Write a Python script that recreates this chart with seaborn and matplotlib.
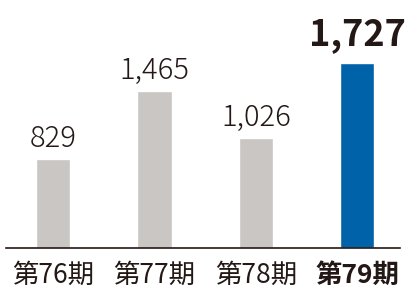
import matplotlib
matplotlib.use("Agg")
import matplotlib.pyplot as plt
import seaborn as sns
import pandas as pd

categories = ["第76期", "第77期", "第78期", "第79期"]
values = [829, 1465, 1026, 1727]
value_labels = ["829", "1,465", "1,026", "1,727"]
colors = ["#c9c6c3", "#c9c6c3", "#c9c6c3", "#0062a9"]

sns.set_theme(style="white")
plt.rcParams['font.family'] = ['Noto Sans CJK JP', 'DejaVu Sans']

df = pd.DataFrame({"cat": categories, "val": values})

fig = plt.figure(figsize=(4.10, 2.98), dpi=100)
ax = fig.add_axes([6/410, 1 - 248/298, 394/410, 248/298])
sns.barplot(data=df, x="cat", y="val", hue="cat", palette=colors, width=0.337,
            legend=False, ax=ax, saturation=1)

ax.set_xlim(-0.465, 3.42)
ax.set_ylim(0, 2315)
for s in ["top", "right", "left"]:
    ax.spines[s].set_visible(False)
ax.spines["bottom"].set_color("#231815")
ax.spines["bottom"].set_linewidth(1.2)
ax.set_yticks([])
ax.set_xlabel("")
ax.set_ylabel("")
txt = "#231815"
ax.tick_params(axis="x", length=0, pad=10, labelsize=19, colors=txt)
for i, lab in enumerate(ax.get_xticklabels()):
    if i == 3:
        lab.set_fontweight("bold")

for i, (v, l) in enumerate(zip(values, value_labels)):
    if i == 3:
        ax.text(i, v + 90, l, ha="center", va="bottom", fontsize=26,
                fontweight="bold", color=txt)
    else:
        ax.text(i, v + 50, l, ha="center", va="bottom", fontsize=21,
                fontweight="light", color=txt)

fig.savefig("out.png", dpi=100)
